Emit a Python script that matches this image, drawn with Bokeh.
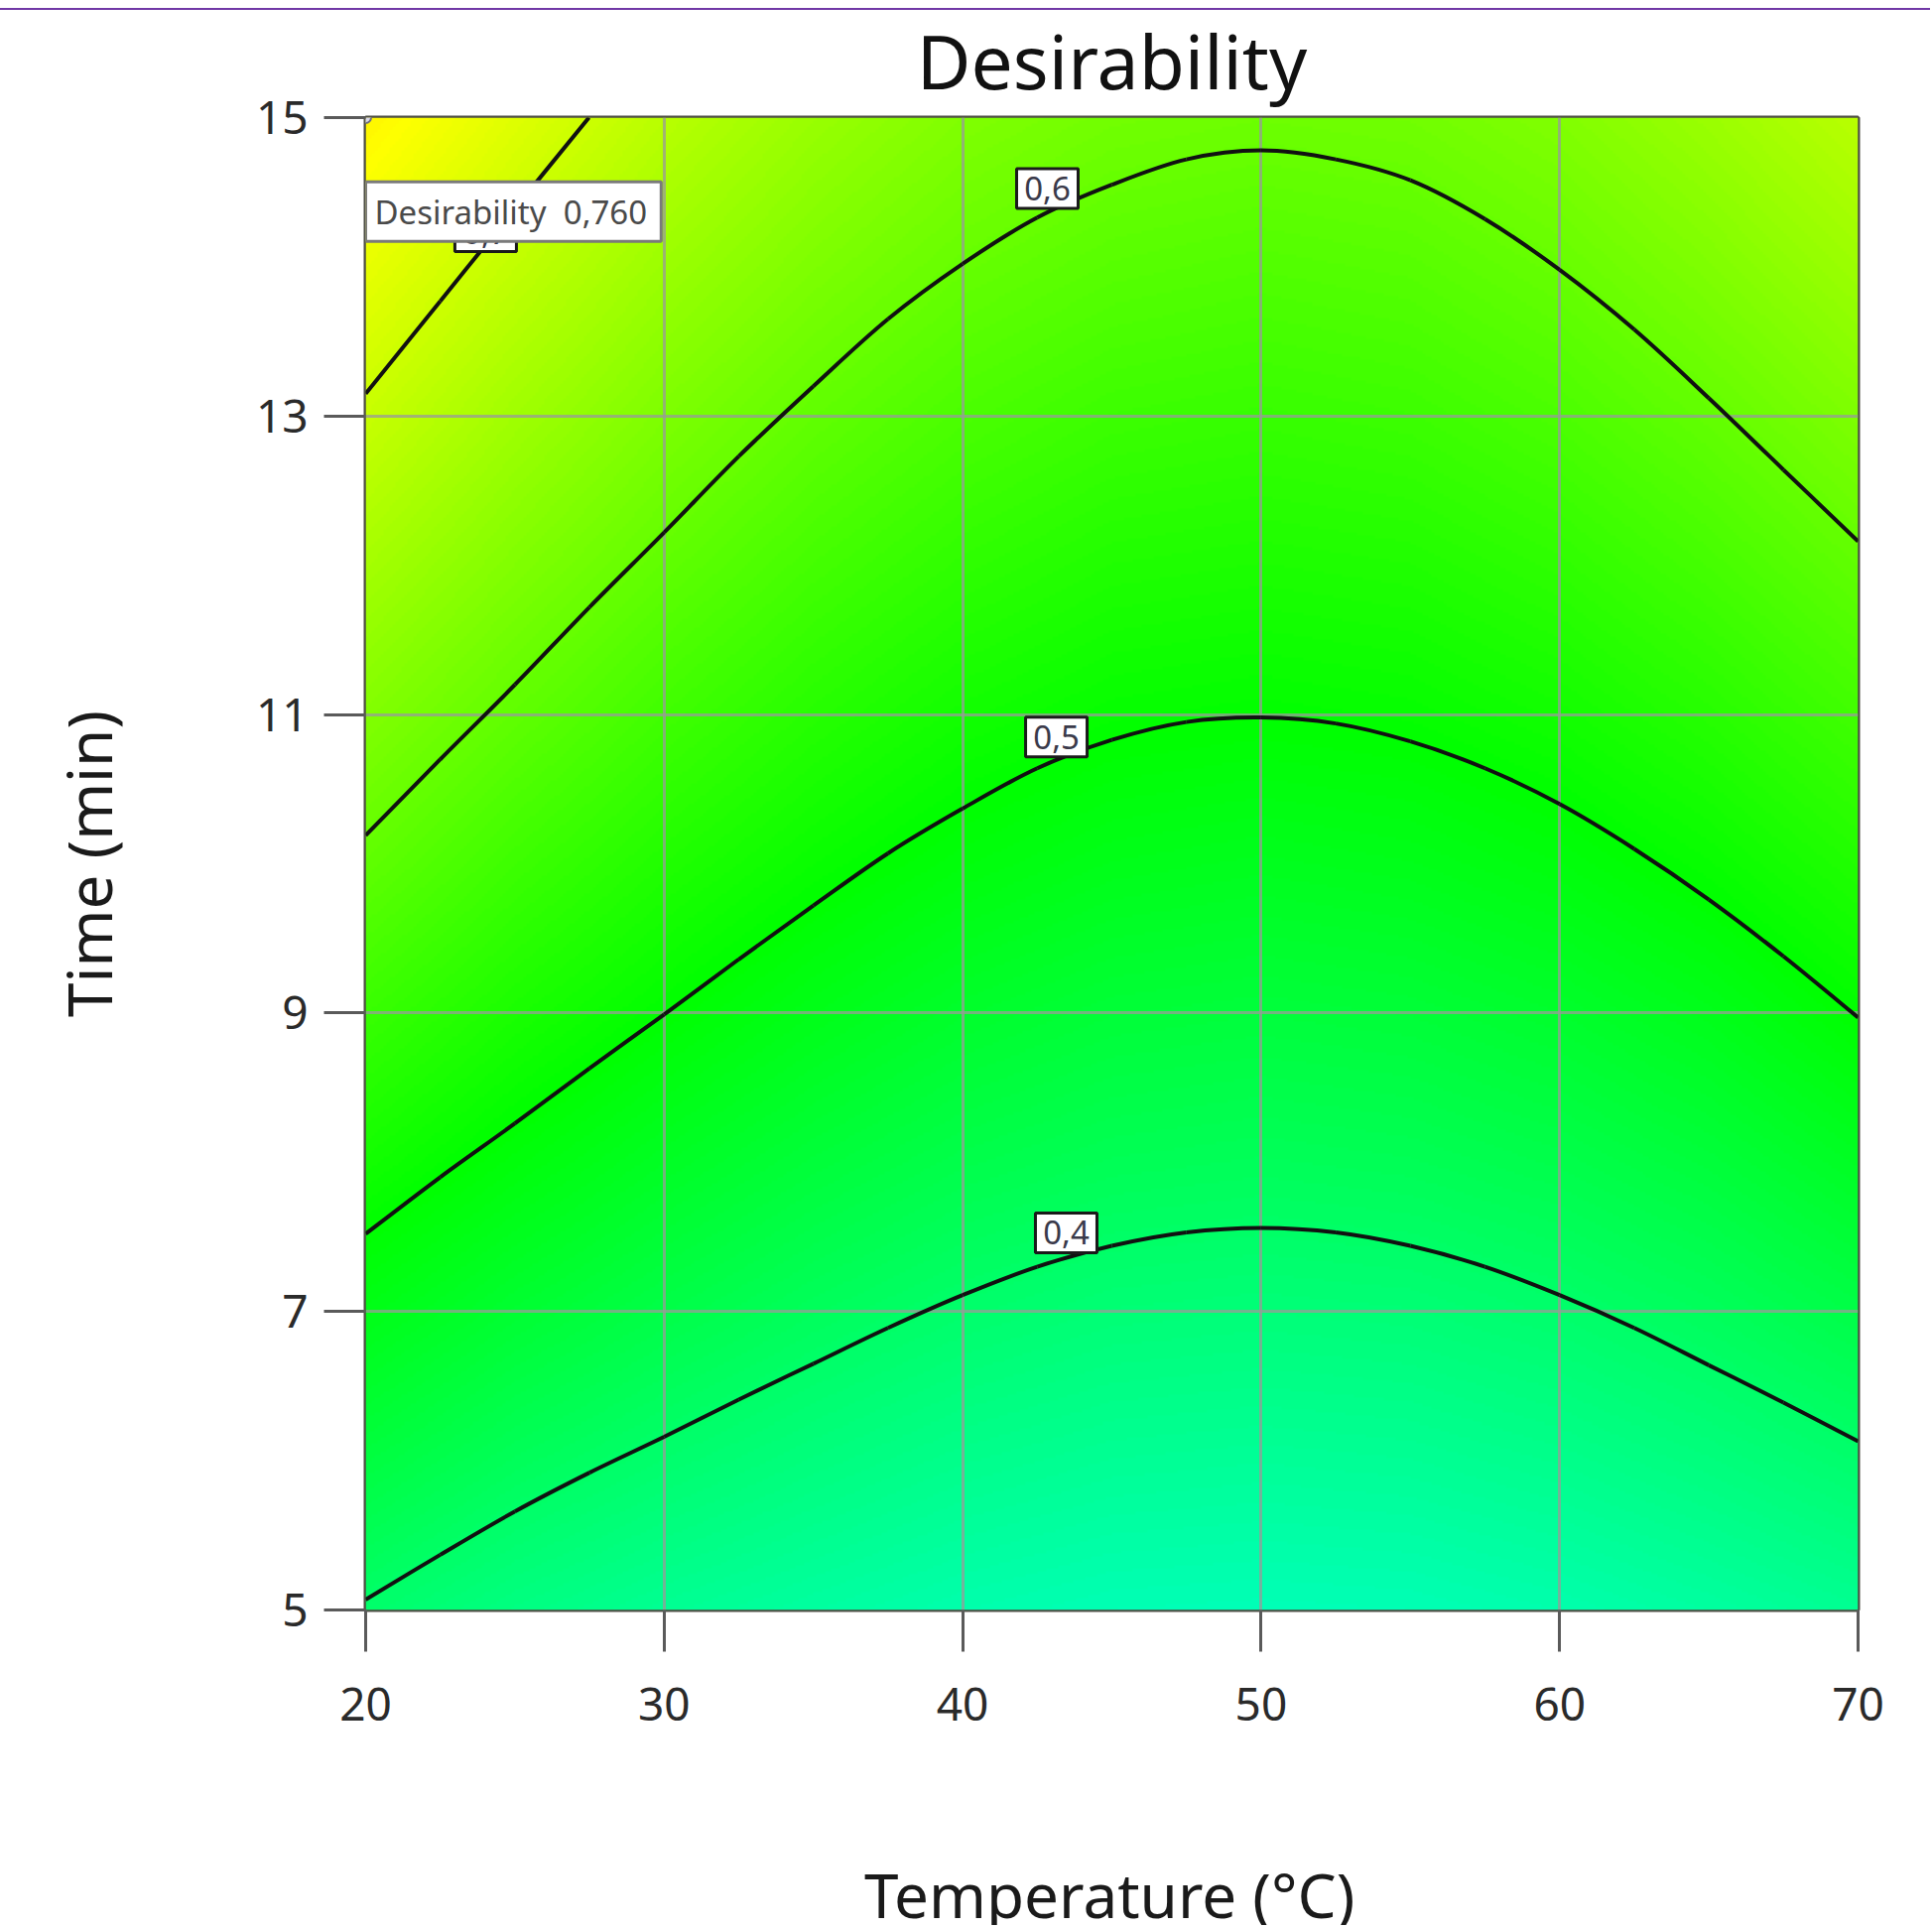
import numpy as np
from bokeh.plotting import figure
from bokeh.models import Range1d, LinearColorMapper
from bokeh.layouts import column
from bokeh.core.properties import value
from bokeh.embed import file_html
from bokeh.resources import INLINE

# ---------------- data ----------------
temps = [20, 25, 30, 35, 40, 45, 50, 55, 60, 65, 70]          # Temperature (°C)
times = [5, 6, 7, 8, 9, 10, 11, 12, 13, 14, 15]               # Time (min)
# desirability estimated at each (time row, temperature column)
d_t05 = [0.397, 0.374, 0.357, 0.344, 0.332, 0.324, 0.322, 0.324, 0.332, 0.344, 0.358]
d_t06 = [0.438, 0.413, 0.394, 0.378, 0.364, 0.355, 0.352, 0.355, 0.364, 0.378, 0.395]
d_t07 = [0.479, 0.452, 0.430, 0.411, 0.396, 0.386, 0.383, 0.386, 0.396, 0.411, 0.431]
d_t08 = [0.518, 0.490, 0.465, 0.444, 0.427, 0.417, 0.413, 0.417, 0.427, 0.443, 0.466]
d_t09 = [0.555, 0.525, 0.500, 0.477, 0.458, 0.446, 0.442, 0.446, 0.457, 0.475, 0.501]
d_t10 = [0.593, 0.559, 0.531, 0.508, 0.489, 0.476, 0.471, 0.476, 0.488, 0.507, 0.532]
d_t11 = [0.627, 0.593, 0.562, 0.537, 0.517, 0.505, 0.501, 0.505, 0.517, 0.537, 0.563]
d_t12 = [0.661, 0.625, 0.593, 0.566, 0.545, 0.531, 0.527, 0.531, 0.545, 0.567, 0.594]
d_t13 = [0.695, 0.656, 0.622, 0.594, 0.572, 0.558, 0.553, 0.558, 0.573, 0.596, 0.623]
d_t14 = [0.727, 0.688, 0.651, 0.622, 0.599, 0.585, 0.579, 0.584, 0.600, 0.624, 0.652]
d_t15 = [0.760, 0.718, 0.680, 0.649, 0.625, 0.611, 0.606, 0.610, 0.626, 0.651, 0.681]

# contour lines (time at which the level is reached, per temperature)
contour_T = [20, 22.5, 25, 27.5, 30, 32.5, 35, 37.5, 40, 42.5, 45,
             47.5, 50, 52.5, 55, 57.5, 60, 62.5, 65, 67.5, 70]
contour_04 = [5.07, 5.37, 5.66, 5.92, 6.16, 6.41, 6.65, 6.89, 7.11, 7.30, 7.44,
              7.53, 7.56, 7.53, 7.44, 7.30, 7.11, 6.89, 6.64, 6.39, 6.13]
contour_05 = [7.52, 7.90, 8.26, 8.63, 8.99, 9.36, 9.72, 10.07, 10.37, 10.64, 10.83,
              10.95, 10.98, 10.94, 10.82, 10.64, 10.40, 10.10, 9.76, 9.38, 8.97]
contour_06 = [10.19, 10.70, 11.20, 11.72, 12.22, 12.73, 13.20, 13.65, 14.02, 14.33, 14.55,
              14.72, 14.78, 14.72, 14.58, 14.32, 13.98, 13.58, 13.12, 12.64, 12.16]
contour_07_T = [20, 22.5, 25, 27.48]
contour_07 = [13.15, 13.77, 14.39, 15.0]

label_T = [42.84, 43.14, 43.47]
label_t = [14.525, 10.85, 7.527]
label_text = ["0,6", "0,5", "0,4"]
hidden_label_T = [24.02]
hidden_label_t = [14.235]
hidden_label_text = ["0,7"]

point_T = [20]
point_t = [15]
point_text = ["Desirability\u00a0\u00a00,760"]

x_ticks = [20, 30, 40, 50, 60, 70]
y_ticks = [5, 7, 9, 11, 13, 15]

# ---------------- colour map (Design-Expert style) ----------------
stops = [(0.0, (0, 0, 255)), (0.25, (0, 255, 255)), (0.5, (0, 255, 0)),
         (0.75, (255, 255, 0)), (1.0, (255, 0, 0))]
palette = []
for i in range(256):
    v = i / 255
    for (a, ca), (b, cb) in zip(stops[:-1], stops[1:]):
        if a <= v <= b:
            f = (v - a) / (b - a)
            c = [int(round(ca[k] + (cb[k] - ca[k]) * f)) for k in range(3)]
            break
    palette.append("#%02x%02x%02x" % tuple(c))
mapper = LinearColorMapper(palette=palette, low=0.0, high=1.0)

# smooth rendering of the read grid
D = np.array([d_t05, d_t06, d_t07, d_t08, d_t09, d_t10, d_t11, d_t12, d_t13, d_t14, d_t15])
nx, ny = 500, 500
xs = temps[0] + (np.arange(nx) + 0.5) * (temps[-1] - temps[0]) / nx
ys = times[0] + (np.arange(ny) + 0.5) * (times[-1] - times[0]) / ny
rows = np.array([np.interp(xs, temps, r) for r in D])
img = np.array([np.interp(ys, times, rows[:, j]) for j in range(nx)]).T


def bezier_segments(xv, yv):
    """Catmull-Rom tangents -> cubic Bezier control points through the read points."""
    P = np.column_stack([xv, yv]).astype(float)
    n = len(P)
    seg = {k: [] for k in ("x0", "y0", "x1", "y1", "cx0", "cy0", "cx1", "cy1")}
    for i in range(n - 1):
        p0 = P[i - 1] if i > 0 else P[i]
        p1, p2 = P[i], P[i + 1]
        p3 = P[i + 2] if i + 2 < n else P[i + 1]
        c1 = p1 + (p2 - p0) / 6.0
        c2 = p2 - (p3 - p1) / 6.0
        seg["x0"].append(p1[0]); seg["y0"].append(p1[1])
        seg["x1"].append(p2[0]); seg["y1"].append(p2[1])
        seg["cx0"].append(c1[0]); seg["cy0"].append(c1[1])
        seg["cx1"].append(c2[0]); seg["cy1"].append(c2[1])
    return seg


FONT = "Noto Sans"

W = 1945
H1 = 1810
p = figure(width=W, height=H1, output_backend="svg", toolbar_location=None,
           x_range=Range1d(20, 70), y_range=Range1d(5, 15),
           min_border_left=368, min_border_right=W - 1872,
           min_border_top=118, min_border_bottom=188)
# thin purple rule along the top of the page
p.styles = {"background": "linear-gradient(to bottom, #ffffff 0px, #ffffff 8px, "
                          "#7138a6 8px, #7138a6 10px, #ffffff 10px, #ffffff 100%)"}
p.border_fill_color = None

r = p.image(image=[img], x=20, y=5, dw=50, dh=10, color_mapper=mapper)
r.level = "image"

# grid
p.grid.grid_line_color = "#9a9a9a"
p.grid.grid_line_alpha = 0.75
p.grid.grid_line_width = 3
p.xgrid.ticker = x_ticks
p.ygrid.ticker = y_ticks

# contour lines
for xx, yy in [(contour_T, contour_04), (contour_T, contour_05),
               (contour_T, contour_06), (contour_07_T, contour_07)]:
    p.bezier(**bezier_segments(xx, yy), line_color="#111111", line_width=4)

BOX_W, BOX_H = 62, 40

# hidden 0,7 label box (mostly under the flag)
p.rect(hidden_label_T, hidden_label_t, width=BOX_W, height=BOX_H, width_units="screen",
       height_units="screen", fill_color="white", line_color="#1a1a1a", line_width=3)
p.text(hidden_label_T, hidden_label_t, text=hidden_label_text, text_align="center",
       text_baseline="middle", text_font=value(FONT), text_font_size="33px",
       text_color="#3a3a4a")

# contour labels
p.rect(label_T, label_t, width=BOX_W, height=BOX_H, width_units="screen",
       height_units="screen", fill_color="white", line_color="#1a1a1a", line_width=3)
p.text(label_T, label_t, text=label_text, text_align="center",
       text_baseline="middle", text_font=value(FONT), text_font_size="33px",
       text_color="#3a3a4a")

# flag of the selected point
p.quad(left=[20], right=[29.9], bottom=[14.17], top=[14.57],
       fill_color="white", line_color="#7a7a7a", line_width=3)
p.text([20.3], [14.37], text=point_text, text_align="left", text_baseline="middle",
       text_font=value(FONT), text_font_size="33px", text_color="#4a4a4a")
p.scatter(point_T, point_t, size=11, fill_color="#d8d8ea", line_color="#707080",
          line_width=2)

# frame
p.outline_line_color = "#4f4f45"
p.outline_line_width = 4
p.background_fill_color = "white"

# title
p.title.text = "Desirability"
p.title.align = "center"
p.title.text_font = FONT
p.title.text_font_size = "75px"
p.title.text_font_style = "normal"
p.title.text_color = "#111111"
p.title.standoff = 14

# axes
for ax in (p.xaxis[0], p.yaxis[0]):
    ax.axis_line_color = None
    ax.major_tick_in = 0
    ax.major_tick_out = 42
    ax.major_tick_line_color = "#5a5a5a"
    ax.major_tick_line_width = 3
    ax.minor_tick_line_color = None
    ax.major_label_text_font = FONT
    ax.major_label_text_font_size = "46px"
    ax.major_label_text_color = "#2a2a2a"
p.xaxis.ticker = x_ticks
p.yaxis.ticker = y_ticks
p.xaxis.major_label_standoff = 36
p.yaxis.major_label_standoff = 16

p.yaxis.axis_label = "Time (min)"
p.yaxis.axis_label_text_font = FONT
p.yaxis.axis_label_text_font_size = "62px"
p.yaxis.axis_label_text_font_style = "normal"
p.yaxis.axis_label_text_color = "#1a1a1a"
p.yaxis.axis_label_standoff = 124

# x-axis title strip (cut at the bottom edge as in the picture)
H2 = 130
p2 = figure(width=W, height=H2, output_backend="svg", toolbar_location=None,
            title=None, x_range=p.x_range, y_range=Range1d(0, H2),
            x_axis_type=None, y_axis_type=None, min_border=0)
p2.outline_line_color = None
p2.grid.visible = False
p2.background_fill_color = "white"
p2.border_fill_color = "white"
p2.text([44.92], [32], text=["Temperature (°C)"], text_align="center",
        text_baseline="alphabetic", text_font=value(FONT), text_font_size="62px",
        text_color="#1a1a1a")

layout = column(p, p2, spacing=0)
open("out.html", "w").write(file_html(layout, INLINE))
